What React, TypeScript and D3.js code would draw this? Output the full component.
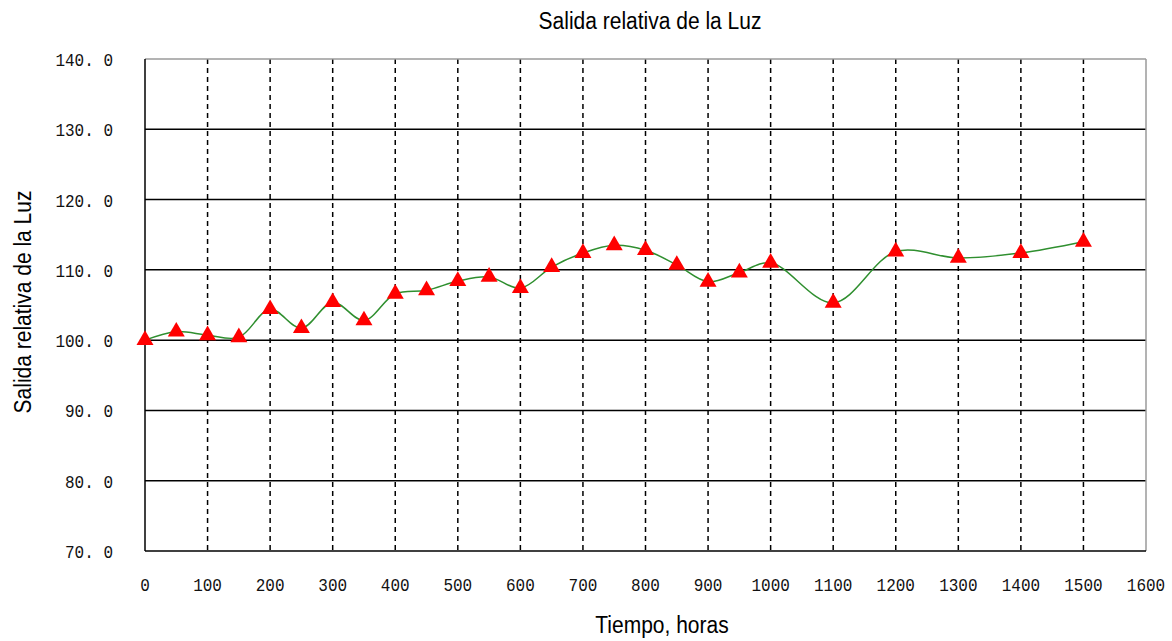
import React, { useRef, useEffect } from 'react';
import * as d3 from 'd3';

// horas
const hours = [0, 50, 100, 150, 200, 250, 300, 350, 400, 450, 500, 550, 600, 650, 700, 750, 800, 850, 900, 950, 1000, 1100, 1200, 1300, 1400, 1500];
// salida relativa (%)
const output = [100.0, 101.2, 100.7, 100.4, 104.4, 101.7, 105.4, 102.8, 106.6, 107.1, 108.4, 109.0, 107.4, 110.4, 112.4, 113.5, 112.8, 110.7, 108.3, 109.6, 111.0, 105.3, 112.6, 111.7, 112.4, 114.0];
const xTicks = [0, 100, 200, 300, 400, 500, 600, 700, 800, 900, 1000, 1100, 1200, 1300, 1400, 1500, 1600];
const yTicks = [70, 80, 90, 100, 110, 120, 130, 140];

const W = 1172, H = 641;

const App = () => {
  const ref = useRef<SVGSVGElement>(null);

  useEffect(() => {
    if (!ref.current) return;
    const svg = d3.select(ref.current);
    svg.selectAll("*").remove();

    const left = 145, right = 1146, top = 59, bottom = 551;
    const x = d3.scaleLinear().domain([0, 1600]).range([left, right]);
    const y = d3.scaleLinear().domain([70, 140]).range([bottom, top]);
    const tickFont = "'Liberation Mono', monospace";

    // horizontal grid
    svg.append("g")
      .selectAll("line")
      .data(yTicks.filter(d => d > 70 && d < 140))
      .enter().append("line")
      .attr("x1", left).attr("x2", right)
      .attr("y1", d => y(d)).attr("y2", d => y(d))
      .attr("stroke", "#000").attr("stroke-width", 1.5);

    // vertical dashed grid
    svg.append("g")
      .selectAll("line")
      .data(xTicks.filter(d => d > 0 && d < 1600))
      .enter().append("line")
      .attr("x1", d => x(d)).attr("x2", d => x(d))
      .attr("y1", top).attr("y2", bottom)
      .attr("stroke", "#000").attr("stroke-width", 1.5)
      .attr("stroke-dasharray", "5,4");

    // frame
    svg.append("line").attr("x1", left).attr("x2", right).attr("y1", top).attr("y2", top)
      .attr("stroke", "#9a9a9a").attr("stroke-width", 1.5);
    svg.append("line").attr("x1", right).attr("x2", right).attr("y1", top).attr("y2", bottom)
      .attr("stroke", "#9a9a9a").attr("stroke-width", 1.5);
    svg.append("line").attr("x1", left).attr("x2", left).attr("y1", top).attr("y2", bottom)
      .attr("stroke", "#000").attr("stroke-width", 1.5);
    svg.append("line").attr("x1", left).attr("x2", right).attr("y1", bottom).attr("y2", bottom)
      .attr("stroke", "#000").attr("stroke-width", 1.5);

    // tick labels (tall, narrow glyphs)
    svg.append("g")
      .selectAll("text")
      .data(yTicks)
      .enter().append("text")
      .attr("transform", d => `translate(113,${y(d) + 7}) scale(1,1.2)`)
      .attr("text-anchor", "end")
      .attr("font-family", tickFont).attr("font-size", 16)
      .attr("fill", "#111")
      .text(d => d.toFixed(1).replace(".", ". "));

    svg.append("g")
      .selectAll("text")
      .data(xTicks)
      .enter().append("text")
      .attr("transform", d => `translate(${x(d)},591) scale(1,1.2)`)
      .attr("text-anchor", "middle")
      .attr("font-family", tickFont).attr("font-size", 16)
      .attr("fill", "#111")
      .text(d => d);

    const pts = hours.map((h, i) => [h, output[i]] as [number, number]);

    // smoothed line
    const line = d3.line<[number, number]>()
      .x(d => x(d[0])).y(d => y(d[1]))
      .curve(d3.curveCatmullRom.alpha(0.5));
    svg.append("path")
      .datum(pts)
      .attr("d", line)
      .attr("fill", "none")
      .attr("stroke", "#2f8f2f")
      .attr("stroke-width", 1.5);

    // triangle markers
    const tri = d3.symbol().type(d3.symbolTriangle).size(125);
    svg.append("g")
      .selectAll("path")
      .data(pts)
      .enter().append("path")
      .attr("d", tri)
      .attr("transform", d => `translate(${x(d[0])},${y(d[1])})`)
      .attr("fill", "#ff0000");

    // titles
    const labelFont = "'Liberation Sans', Arial, sans-serif";
    svg.append("text")
      .attr("transform", "translate(650,29) scale(1,1.12)")
      .attr("text-anchor", "middle")
      .attr("font-family", labelFont).attr("font-size", 21)
      .text("Salida relativa de la Luz");
    svg.append("text")
      .attr("transform", "translate(31,302) rotate(-90) scale(1,1.12)")
      .attr("text-anchor", "middle")
      .attr("font-family", labelFont).attr("font-size", 21)
      .text("Salida relativa de la Luz");
    svg.append("text")
      .attr("transform", "translate(662,633) scale(1,1.12)")
      .attr("text-anchor", "middle")
      .attr("font-family", labelFont).attr("font-size", 21)
      .text("Tiempo, horas");
  }, []);

  return (
    <svg ref={ref} width={W} height={H}
      style={{ position: "absolute", left: 0, top: 0, background: "#fff" }} />
  );
};

export default App;
